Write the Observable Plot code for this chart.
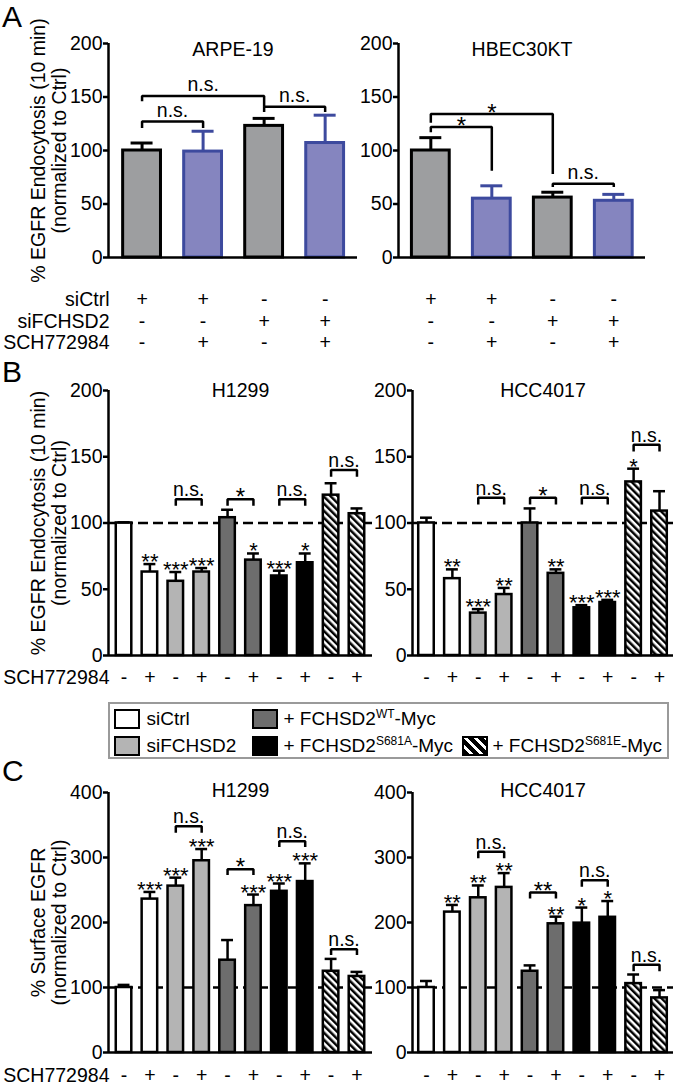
<!DOCTYPE html>
<html>
<head>
<meta charset="utf-8">
<script src="https://cdn.jsdelivr.net/npm/d3@7"></script>
<script src="https://cdn.jsdelivr.net/npm/@observablehq/plot@0.6"></script>
<style>
html,body{margin:0;padding:0;background:#fff;}
#fig{position:relative;width:677px;height:1085px;overflow:hidden;font-family:"Liberation Sans",Arial,Helvetica,sans-serif;color:#000;}
.pn{position:absolute;}
.pn svg{display:block;overflow:visible;max-width:none;}
.letter{position:absolute;left:2px;font-size:30px;line-height:34px;}
#fig svg g[aria-label^="y-axis"] line, #fig svg g[aria-label^="y-axis"] path{stroke-width:2.5px;stroke:#000;}
#legend{position:absolute;left:108px;top:702px;width:561px;height:57px;border:2.5px solid #9a9a9a;box-sizing:border-box;font-size:19px;}
.sw{position:absolute;width:26px;height:20px;box-sizing:border-box;border:2.5px solid #000;}
.lt{position:absolute;line-height:20px;white-space:nowrap;}
.lt sup{font-size:12px;vertical-align:baseline;position:relative;top:-7px;}
</style>
</head>
<body>
<svg width="0" height="0" style="position:absolute">
<defs>
<pattern id="hatch" patternUnits="userSpaceOnUse" width="5" height="5" patternTransform="rotate(-45)">
<rect width="5" height="5" fill="#fff"/><rect width="2.5" height="5" fill="#000"/>
</pattern>
</defs></svg>
<div id="fig">
  <div class="letter" style="top:0px">A</div>
  <div class="letter" style="top:355px">B</div>
  <div class="letter" style="top:754px">C</div>
  <div class="pn" id="aL" style="left:0;top:0"></div>
  <div class="pn" id="aR" style="left:355px;top:0"></div>
  <div class="pn" id="bL" style="left:0;top:330px"></div>
  <div class="pn" id="bR" style="left:372px;top:330px"></div>
  <div class="pn" id="cL" style="left:0;top:760px"></div>
  <div class="pn" id="cR" style="left:372px;top:760px"></div>
  <div id="legend">
    <div class="sw" style="left:3.5px;top:4.5px;background:#fff"></div>
    <div class="lt" style="left:36.5px;top:4.5px">siCtrl</div>
    <div class="sw" style="left:3.5px;top:31.5px;background:#b4b4b4"></div>
    <div class="lt" style="left:36.5px;top:31.5px">siFCHSD2</div>
    <div class="sw" style="left:141.5px;top:4.5px;background:#6d6d6d"></div>
    <div class="lt" style="left:173.5px;top:4.5px">+ FCHSD2<sup>WT</sup>-Myc</div>
    <div class="sw" style="left:141.5px;top:31.5px;background:#000"></div>
    <div class="lt" style="left:173.5px;top:31.5px">+ FCHSD2<sup>S681A</sup>-Myc</div>
    <div class="sw" style="left:351.5px;top:31.5px;background:repeating-linear-gradient(45deg,#000 0 4px,#fff 4px 7px)"></div>
    <div class="lt" style="left:382.5px;top:31.5px">+ FCHSD2<sup>S681E</sup>-Myc</div>
  </div>
</div>
<script>
// ---------- data ----------
const ticks200 = [0, 50, 100, 150, 200];
const ticks400 = [0, 100, 200, 300, 400];

// Panel A
const aTitles = ["ARPE-19", "HBEC30KT"];
const aArpeMean = [100, 99, 123, 107];
const aArpeErr  = [107, 118, 130, 133];
const aHbecMean = [100, 55, 56, 53];
const aHbecErr  = [112, 67, 61, 59];
const aFills   = ["#9d9ea0", "#8585bf", "#9d9ea0", "#8585bf"];
const aStrokes = ["#000000", "#3d4a9e", "#000000", "#3d4a9e"];
const aRowLabels = ["siCtrl", "siFCHSD2", "SCH772984"];
const aRowSiCtrl = ["+", "+", "-", "-"];
const aRowSiFCHSD2 = ["-", "-", "+", "+"];
const aRowSCH = ["-", "+", "-", "+"];
// brackets: [barA, barB, top, legA bottom, legB bottom, label]
const aArpeBrackets = [[0, 1, 127, 121, 121, "n.s."], [0, 2, 151, 146, 141, "n.s."], [2, 3, 141, 136, 136, "n.s."]];
const aHbecBrackets = [[0, 2, 134, 126, 78, "*"], [0, 1, 122, 117, 81, "*"], [2, 3, 69, 66, 66, "n.s."]];

// Panels B & C (10 bars each)
const bcFills = ["#ffffff", "#ffffff", "#b4b4b4", "#b4b4b4", "#6d6d6d", "#6d6d6d", "#000000", "#000000", "url(#hatch)", "url(#hatch)"];
const bcStrokes = ["#000", "#000", "#000", "#000", "#000", "#000", "#000", "#000", "#000", "#000"];
const bcRowSCH = ["-", "+", "-", "+", "-", "+", "-", "+", "-", "+"];

const bH1299Mean = [100, 63, 56, 63, 104, 72, 60, 70, 121, 107];
const bH1299Err  = [100.5, 69, 63, 66, 110, 77, 64, 77, 130, 111];
const bH1299Stars = ["", "**", "***", "***", "", "*", "***", "*", "", ""];
const bH1299Brackets = [[2, 3, 118, 113, 113, "n.s."], [4, 5, 118, 113, 113, "*"], [6, 7, 118, 113, 113, "n.s."], [8, 9, 140, 135, 135, "n.s."]];

const bHccMean = [100, 58, 32, 46, 100, 62, 36, 40, 131, 109];
const bHccErr  = [104, 65, 35, 51, 111, 65, 38, 42, 141, 124];
const bHccStars = ["", "**", "***", "**", "", "**", "***", "***", "*", ""];
const bHccBrackets = [[2, 3, 119, 114, 114, "n.s."], [4, 5, 119, 114, 114, "*"], [6, 7, 119, 114, 114, "n.s."], [8, 9, 159, 154, 154, "n.s."]];

const cH1299Mean = [100, 236, 256, 295, 142, 226, 248, 263, 125, 117];
const cH1299Err  = [104, 247, 269, 313, 173, 243, 260, 291, 144, 124];
const cH1299Stars = ["", "***", "***", "***", "", "***", "***", "***", "", ""];
const cH1299Brackets = [[2, 3, 348, 338, 338, "n.s."], [4, 5, 282, 273, 273, "*"], [6, 7, 325, 316, 316, "n.s."], [8, 9, 159, 150, 150, "n.s."]];

const cHccMean = [100, 216, 238, 254, 125, 198, 199, 208, 106, 84];
const cHccErr  = [110, 227, 257, 276, 134, 209, 223, 233, 120, 96];
const cHccStars = ["", "**", "**", "**", "", "**", "*", "*", "", ""];
const cHccBrackets = [[2, 3, 309, 299, 299, "n.s."], [4, 5, 246, 237, 237, "**"], [6, 7, 265, 255, 255, "n.s."], [8, 9, 135, 125, 125, "n.s."]];

const yLabelEndo = "% EGFR Endocytosis (10 min)\n(normalized to Ctrl)";
const yLabelSurf = "% Surface EGFR\n(normalized to Ctrl)";

// ---------- builder ----------
const FONT = "'Liberation Sans', Arial, Helvetica, sans-serif";
const FS = 19.5;
function panel(c) {
  const rows = c.mean.map((v, i) => ({i, v, err: c.err[i], fill: c.fills[i], stroke: c.strokes[i], star: c.stars ? c.stars[i] : ""}));
  const bk = c.brackets.map(([a, b, top, la, lb, label], k) => ({a, b, top, la, lb, label, k}));
  const bkPts = bk.flatMap(d => [
    {x: d.a, y: d.la, k: d.k}, {x: d.a, y: d.top, k: d.k},
    {x: d.b, y: d.top, k: d.k}, {x: d.b, y: d.lb, k: d.k}
  ]);
  const marks = [];
  if (c.dash != null) marks.push(Plot.ruleY([c.dash], {stroke: "#000", strokeWidth: 2.5, strokeDasharray: "10,5"}));
  marks.push(Plot.rectY(rows, {x1: d => d.i - c.half, x2: d => d.i + c.half, y1: 0, y2: "v", fill: "fill", stroke: "stroke", strokeWidth: c.sw}));
  marks.push(Plot.ruleX(rows, {x: "i", y1: "v", y2: "err", stroke: "stroke", strokeWidth: c.sw}));
  marks.push(Plot.ruleY(rows, {y: "err", x1: d => d.i - c.cap, x2: d => d.i + c.cap, stroke: "stroke", strokeWidth: c.sw}));
  marks.push(Plot.ruleY([0], {stroke: "#000", strokeWidth: 2.5}));
  marks.push(Plot.ruleX([c.xDomain[0]], {y1: 0, y2: c.yDomain[1], stroke: "#000", strokeWidth: 2.5}));
  marks.push(Plot.line(bkPts, {x: "x", y: "y", z: "k", stroke: "#000", strokeWidth: 2.5, strokeLinejoin: "miter", strokeLinecap: "butt"}));
  marks.push(Plot.text(bk, {filter: d => d.label === "n.s.", x: d => (d.a + d.b) / 2, y: "top", text: "label", lineAnchor: "bottom", dy: c.nsDy, fontSize: FS}));
  marks.push(Plot.text(bk, {filter: d => d.label !== "n.s.", x: d => (d.a + d.b) / 2, y: "top", text: "label", lineAnchor: "bottom", dy: c.bkStarDy, fontSize: 24}));
  if (c.stars) marks.push(Plot.text(rows, {filter: d => d.star, x: "i", y: "err", text: "star", lineAnchor: "bottom", dy: 5, fontSize: 22}));
  marks.push(Plot.text([c.title], {frameAnchor: "top", lineAnchor: "middle", textAnchor: "middle", dy: c.titleDy, fontSize: FS}));
  c.table.forEach((vals, k) => {
    marks.push(Plot.text(vals, {x: (d, i) => i, text: d => d, frameAnchor: "bottom", lineAnchor: "bottom", textAnchor: "middle", dy: c.tableDy[k], fontSize: FS}));
    if (c.tableLabels) marks.push(Plot.text([c.tableLabels[k]], {frameAnchor: "bottom-left", textAnchor: "end", lineAnchor: "bottom", dx: 1, dy: c.tableDy[k], fontSize: FS}));
  });
  if (c.ylabel) marks.push(Plot.text([c.ylabel], {frameAnchor: "left", textAnchor: "middle", lineAnchor: "middle", rotate: -90, dx: -60, lineHeight: 1.12, fontSize: FS}));
  return Plot.plot({
    width: c.width, height: c.height,
    marginLeft: c.mL, marginRight: c.mR, marginTop: c.mT, marginBottom: c.mB,
    style: {fontFamily: FONT, fontSize: FS + "px", background: "transparent", overflow: "visible", color: "#000"},
    x: {type: "linear", domain: c.xDomain, axis: null},
    y: {domain: c.yDomain, ticks: c.yTicks, tickSize: 5, tickPadding: 1, label: null},
    color: {type: "identity"},
    marks
  });
}

const common4 = {fills: aFills, strokes: aStrokes, half: 0.31, cap: 0.18, sw: 3, yDomain: [0, 200], yTicks: ticks200,
  height: 357, mT: 43, mB: 100, titleDy: 6, nsDy: -5, bkStarDy: 7,
  table: [aRowSiCtrl, aRowSiFCHSD2, aRowSCH], tableDy: [48, 70, 91]};
document.getElementById("aL").append(panel({...common4, mean: aArpeMean, err: aArpeErr, brackets: aArpeBrackets, title: aTitles[0],
  width: 362, mL: 108, mR: 5, xDomain: [-0.55, 3.53], tableLabels: aRowLabels, ylabel: yLabelEndo}));
document.getElementById("aR").append(panel({...common4, mean: aHbecMean, err: aHbecErr, brackets: aHbecBrackets, title: aTitles[1],
  width: 322, mL: 43, mR: 32, xDomain: [-0.53, 3.52]}));

const common10 = {fills: bcFills, strokes: bcStrokes, half: 0.30, cap: 0.23, sw: 2.5, dash: 100, nsDy: -3, bkStarDy: 6, table: [bcRowSCH]};
const leftGeom = {width: 372, mL: 108, mR: 0, xDomain: [-0.6, 9.6], tableLabels: ["SCH772984"]};
const rightGeom = {width: 305, mL: 40, mR: 4, xDomain: [-0.54, 9.54]};
const bGeom = {yDomain: [0, 200], yTicks: ticks200, height: 365, mT: 60, mB: 40, titleDy: 0, tableDy: [28]};
const cGeom = {yDomain: [0, 400], yTicks: ticks400, height: 325, mT: 32, mB: 33, titleDy: -2, tableDy: [29]};

document.getElementById("bL").append(panel({...common10, ...leftGeom, ...bGeom, mean: bH1299Mean, err: bH1299Err, stars: bH1299Stars, brackets: bH1299Brackets, title: "H1299", ylabel: yLabelEndo}));
document.getElementById("bR").append(panel({...common10, ...rightGeom, ...bGeom, mean: bHccMean, err: bHccErr, stars: bHccStars, brackets: bHccBrackets, title: "HCC4017"}));
document.getElementById("cL").append(panel({...common10, ...leftGeom, ...cGeom, mean: cH1299Mean, err: cH1299Err, stars: cH1299Stars, brackets: cH1299Brackets, title: "H1299", ylabel: yLabelSurf}));
document.getElementById("cR").append(panel({...common10, ...rightGeom, ...cGeom, mean: cHccMean, err: cHccErr, stars: cHccStars, brackets: cHccBrackets, title: "HCC4017"}));
</script>
</body>
</html>
